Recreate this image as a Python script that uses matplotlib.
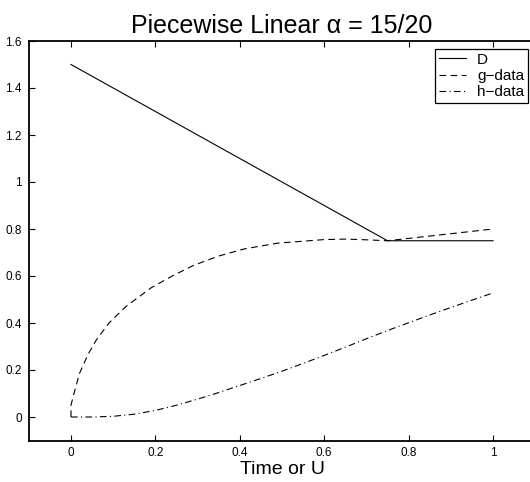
import matplotlib
matplotlib.use("Agg")
import matplotlib.pyplot as plt
import numpy as np

plt.rcParams['font.family'] = ['Liberation Sans', 'DejaVu Sans']

# D: piecewise linear
d_x = [0.0, 0.75, 1.0]
d_y = [1.5, 0.75, 0.75]

# g-data
g_x = [0.0, 0.0, 0.005, 0.02, 0.04, 0.06, 0.09, 0.13, 0.19, 0.24, 0.29, 0.35,
       0.41, 0.49, 0.55, 0.60, 0.65, 0.70, 0.75, 0.80, 0.90, 1.0]
g_y = [0.0, 0.05, 0.086, 0.185, 0.265, 0.328, 0.40, 0.47, 0.55, 0.60, 0.645, 0.685,
       0.715, 0.74, 0.748, 0.755, 0.757, 0.754, 0.75, 0.76, 0.78, 0.80]

# h-data
h_x = [0.0, 0.05, 0.10, 0.15, 0.20, 0.25, 0.30, 0.35, 0.40, 0.45, 0.50,
       0.55, 0.60, 0.65, 0.70, 0.75, 0.80, 0.85, 0.90, 0.95, 1.0]
h_y = [0.0, 0.0, 0.003, 0.012, 0.028, 0.05, 0.076, 0.104, 0.134, 0.164, 0.195,
       0.228, 0.262, 0.297, 0.333, 0.368, 0.401, 0.434, 0.466, 0.497, 0.528]

x_ticks = [0, 0.2, 0.4, 0.6, 0.8, 1]
x_labels = ['0', '0.2', '0.4', '0.6', '0.8', '1']
y_ticks = [0, 0.2, 0.4, 0.6, 0.8, 1, 1.2, 1.4, 1.6]
y_labels = ['0', '0.2', '0.4', '0.6', '0.8', '1', '1.2', '1.4', '1.6']

W, H = 530, 482
fig = plt.figure(figsize=(W / 100, H / 100), dpi=100)
ax = fig.add_axes([28.8 / W, 41.5 / H, 506.4 / W, 399.5 / H])

ax.plot(d_x, d_y, color='black', lw=0.8, label='D')
ax.plot(g_x, g_y, color='black', lw=0.8, linestyle=(0, (6, 4)), label='g\u2212data')
ax.plot(h_x, h_y, color='black', lw=0.8, linestyle=(0, (6, 3, 1, 3)), label='h\u2212data')

ax.set_xlim(-0.1, 1.1)
ax.set_ylim(-0.1, 1.6)
ax.set_xticks(x_ticks)
ax.set_xticklabels(x_labels)
ax.set_yticks(y_ticks)
ax.set_yticklabels(y_labels)
ax.tick_params(direction='in', length=4, width=0.8, labelsize=8.5,
               top=True, right=False, pad=5)
for s in ax.spines.values():
    s.set_linewidth(1.3)

ax.set_title('Piecewise Linear \u03b1 = 15/20', fontsize=18, pad=6)
ax.set_xlabel('Time or U', fontsize=14, labelpad=1)

leg = ax.legend(loc='upper right', bbox_to_anchor=(528 / W, 1 - 49 / H),
                bbox_transform=fig.transFigure, borderaxespad=0,
                fancybox=False, framealpha=1, edgecolor='black',
                fontsize=11, handlelength=1.8, labelspacing=0.15,
                borderpad=0.25, handletextpad=0.7)
leg.get_frame().set_linewidth(0.9)

fig.savefig('out.png', dpi=100)
